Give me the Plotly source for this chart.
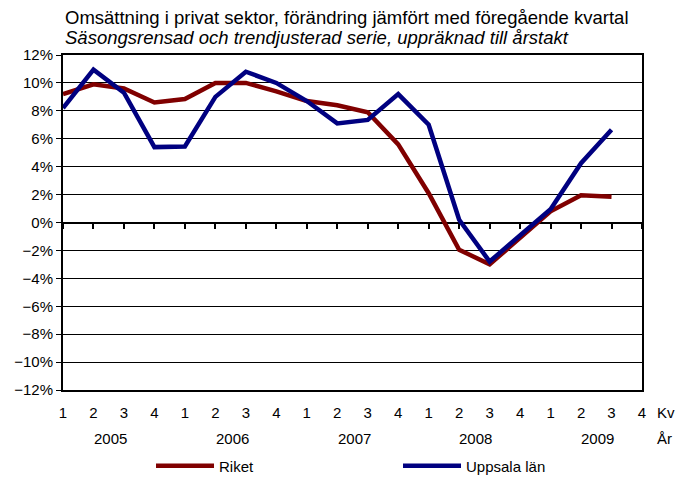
import plotly.graph_objects as go

quarters = ["1", "2", "3", "4"] * 5
years = ["2005", "2006", "2007", "2008", "2009"]
riket = [9.2, 9.9, 9.6, 8.6, 8.85, 10.0, 10.0, 9.4, 8.7, 8.4, 7.9, 5.6, 2.1, -1.95, -3.0, -1.1, 0.8, 1.95, 1.85]
uppsala = [8.2, 10.95, 9.3, 5.4, 5.45, 9.0, 10.8, 10.0, 8.7, 7.1, 7.35, 9.2, 7.0, 0.2, -2.8, -0.95, 0.95, 4.25, 6.65]
title1 = "Omsättning i privat sektor, förändring jämfört med föregående kvartal"
title2 = "Säsongsrensad och trendjusterad serie, uppräknad till årstakt"

FONT = "Liberation Sans, Arial, sans-serif"
xs = list(range(len(riket)))

fig = go.Figure()
fig.add_trace(go.Scatter(x=xs, y=riket, mode="lines", name="Riket", legend="legend",
                         line=dict(color="#800000", width=4.5)))
fig.add_trace(go.Scatter(x=xs, y=uppsala, mode="lines", name="Uppsala län", legend="legend2",
                         line=dict(color="#000080", width=4.5)))
fig.add_trace(go.Scatter(x=[0], y=[0], xaxis="x2", mode="markers",
                         marker=dict(opacity=0), showlegend=False, hoverinfo="skip"))

n = len(quarters)
leg = dict(orientation="h", y=-0.227, xanchor="left", yanchor="middle",
           font=dict(size=15), bgcolor="rgba(0,0,0,0)", itemwidth=58)
fig.update_layout(
    template="none",
    width=679, height=469,
    margin=dict(l=55, r=45, t=47, b=87, autoexpand=False),
    paper_bgcolor="white", plot_bgcolor="white",
    font=dict(family=FONT, size=15, color="black"),
    showlegend=True,
    legend=dict(leg, x=0.152),
    legend2=dict(leg, x=0.5786),
    xaxis=dict(range=[0, n - 1], tickmode="array", tickvals=list(range(n)), ticktext=quarters,
               showgrid=False, zeroline=False, showline=True, linecolor="black", linewidth=2,
               mirror=True, ticks="", ticklabelstandoff=8, tickfont=dict(size=15),
               automargin=False),
    xaxis2=dict(overlaying="x", anchor="free", position=0.5, range=[0, n - 1],
                tickmode="array", tickvals=list(range(n)), ticks="outside", ticklen=5,
                tickwidth=2, tickcolor="black", showticklabels=False, showgrid=False,
                zeroline=False, showline=False, automargin=False),
    yaxis=dict(range=[-12, 12], dtick=2, tick0=0, ticksuffix="%", showgrid=True,
               gridcolor="black", gridwidth=1, zeroline=True, zerolinecolor="black",
               zerolinewidth=2, showline=True, linecolor="black", linewidth=2, mirror=True,
               ticks="outside", ticklen=5, tickcolor="black", tickwidth=1,
               tickfont=dict(size=15), automargin=False),
)

ann = [
    dict(text=title1, x=0, y=1.113, xref="paper", yref="paper", xanchor="left",
         yanchor="middle", showarrow=False, font=dict(size=18.5)),
    dict(text="<i>" + title2 + "</i>", x=0, y=1.051, xref="paper", yref="paper",
         xanchor="left", yanchor="middle", showarrow=False, font=dict(size=18.5)),
    dict(text="Kv", x=1.022, y=-0.066, xref="paper", yref="paper", xanchor="left",
         yanchor="middle", showarrow=False, font=dict(size=15)),
    dict(text="År", x=1.022, y=-0.146, xref="paper", yref="paper", xanchor="left",
         yanchor="middle", showarrow=False, font=dict(size=15)),
]
for i, yr in enumerate(years):
    ann.append(dict(text=yr, x=4 * i + 1.55, y=-0.146, xref="x", yref="paper",
                    xanchor="center", yanchor="middle", showarrow=False, font=dict(size=15)))
fig.update_layout(annotations=ann)

fig.write_html("out.html")
